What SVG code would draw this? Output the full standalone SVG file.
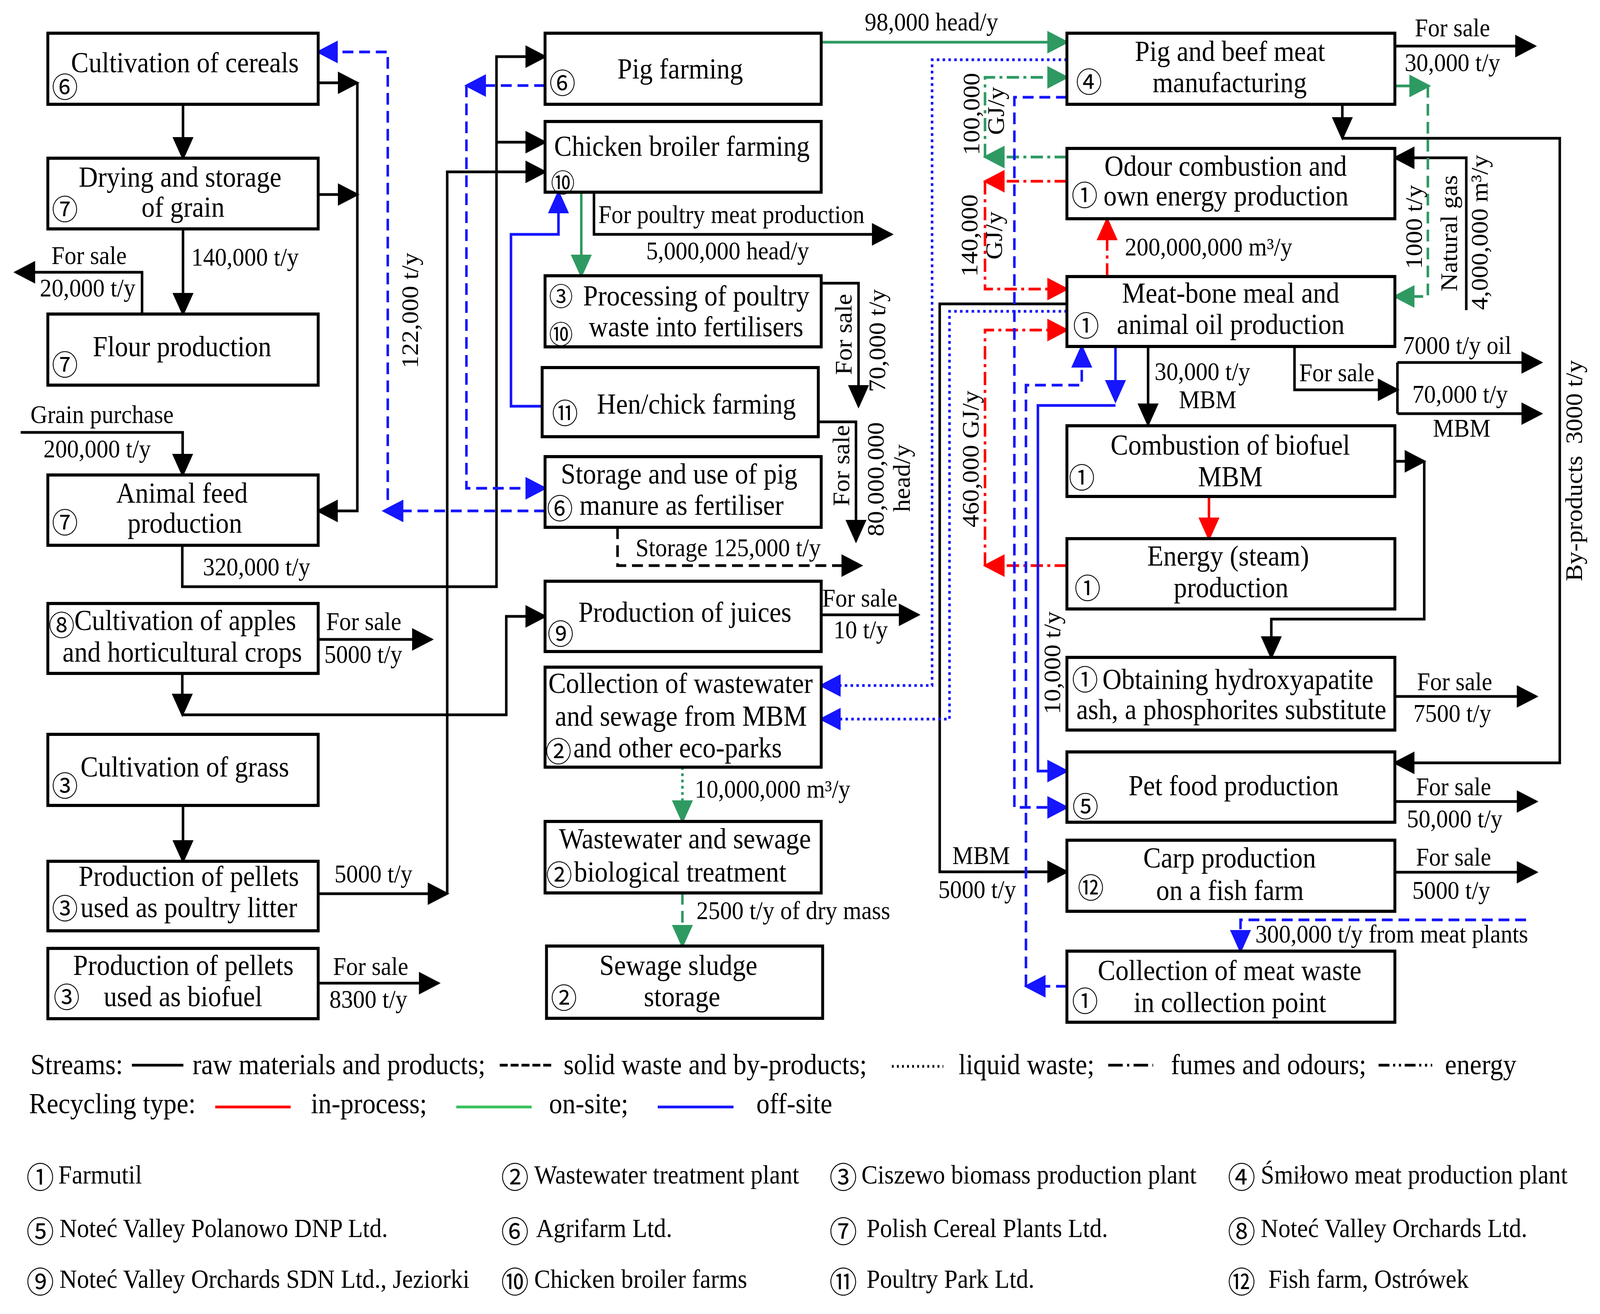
<svg xmlns="http://www.w3.org/2000/svg" width="4415" height="3364" viewBox="0 0 4415 3364" preserveAspectRatio="none">
<style>
:root{width:100vw;height:100vh}
.t{font-family:"Liberation Serif","Times New Roman",serif;font-size:73px;fill:#000}
.s{font-family:"Liberation Serif","Times New Roman",serif;font-size:65px;fill:#000}
.f{font-family:"Liberation Serif","Times New Roman",serif;font-size:67px;fill:#000}
.m{text-anchor:middle}
.c{font-family:"Noto Sans CJK JP","DejaVu Sans",sans-serif;font-size:72px;text-anchor:middle;dominant-baseline:central;fill:#000}
.cs{font-size:66px}
.cf{font-size:76px}
.box{fill:#fff;stroke:#000;stroke-width:8}
.k{fill:none;stroke:#000;stroke-width:7}
.bl{fill:none;stroke:#1515ff;stroke-width:7}
.rd{fill:none;stroke:#ff0000;stroke-width:7}
.gr{fill:none;stroke:#2e9a62;stroke-width:7}
.dash{stroke-dasharray:30 16}
.dot{stroke-dasharray:7 9}
.dd{stroke-dasharray:34 12 8 12}
.ek{marker-end:url(#ak)}
.eb{marker-end:url(#ab)}
.er{marker-end:url(#ar)}
.eg{marker-end:url(#ag)}
</style>
<defs>
<marker id="ak" viewBox="0 0 60 58" refX="54" refY="29" markerWidth="60" markerHeight="58" markerUnits="userSpaceOnUse" orient="auto"><path d="M0,0L60,29L0,58z" fill="#000"/></marker>
<marker id="ab" viewBox="0 0 60 58" refX="54" refY="29" markerWidth="60" markerHeight="58" markerUnits="userSpaceOnUse" orient="auto"><path d="M0,0L60,29L0,58z" fill="#1515ff"/></marker>
<marker id="ar" viewBox="0 0 60 58" refX="54" refY="29" markerWidth="60" markerHeight="58" markerUnits="userSpaceOnUse" orient="auto"><path d="M0,0L60,29L0,58z" fill="#ff0000"/></marker>
<marker id="ag" viewBox="0 0 60 58" refX="54" refY="29" markerWidth="60" markerHeight="58" markerUnits="userSpaceOnUse" orient="auto"><path d="M0,0L60,29L0,58z" fill="#2e9a62"/></marker>
</defs>
<rect width="4415" height="3364" fill="#fff"/>

<g id="connectors">
<path class="k ek" d="M505,267V405"/>
<path class="k ek" d="M505,586V804"/>
<path class="k ek" d="M392,804V697H43"/>
<path class="k ek" d="M878,212H986"/>
<path class="k ek" d="M878,498H986"/>
<path class="k ek" d="M986,212V1308H878"/>
<path class="k ek" d="M57,1107H504V1216"/>
<path class="k ek" d="M503,1396V1502H1370V145H1504"/>
<path class="k ek" d="M1370,364H1504"/>
<path class="k ek" d="M878,2288H1234"/>
<path class="k ek" d="M1234,2288V440H1504"/>
<path class="k ek" d="M503,1724V1830"/>
<path class="k ek" d="M503,1830H1397V1578H1504"/>
<path class="k ek" d="M505,2062V2205"/>
<path class="k ek" d="M878,2517H1210"/>
<path class="k ek" d="M878,1637H1191"/>
<path class="k ek" d="M1639,492V600H2460"/>
<path class="k ek" d="M2266,725H2369V1040"/>
<path class="k ek" d="M2258,1080H2362V1385"/>
<path class="k ek dash" d="M1704,1350V1448H2376"/>
<path class="k ek" d="M2266,1574H2534"/>
<path class="k ek" d="M3849,118H4235"/>
<path class="k ek" d="M3704,267V354"/>
<path class="k ek" d="M3704,354H4304V1953H3849"/>
<path class="k ek" d="M4046,794V404H3849"/>
<path class="k ek" d="M3168,887V1087"/>
<path class="k ek" d="M3572,887V998H3856"/>
<path class="k" d="M3856,928V1059"/>
<path class="k ek" d="M3856,928H4252"/>
<path class="k ek" d="M3856,1059H4252"/>
<path class="k ek" d="M3849,1181H3930"/>
<path class="k ek" d="M3930,1181V1585H3508V1683"/>
<path class="k ek" d="M3849,1783H4239"/>
<path class="k ek" d="M3849,2052H4239"/>
<path class="k ek" d="M3849,2233H4239"/>
<path class="k ek" d="M2944,778H2593V2232H2944"/>
<path class="gr eg" d="M2266,108H2944"/>
<path class="gr eg" d="M1604,492V706"/>
<path class="gr eg dot" d="M1883,1964V2103"/>
<path class="gr eg dash" d="M1883,2286V2422"/>
<path class="gr eg" d="M3849,220H3943"/>
<path class="gr eg dash" d="M3940,220V759H3849"/>
<path class="gr eg dd" d="M2944,402H2718"/>
<path class="gr eg dd" d="M2718,402V198H2944"/>
<path class="rd er dd" d="M2944,464H2718"/>
<path class="rd er dd" d="M2718,464V740H2944"/>
<path class="rd er dd" d="M2944,1448H2718"/>
<path class="rd er dd" d="M2718,1448V845H2944"/>
<path class="rd er dd" d="M3055,708V561"/>
<path class="rd er" d="M3336,1271V1379"/>
<path class="bl eb dash" d="M1504,1308H1059"/>
<path class="bl eb dash" d="M1070,1280V133H878"/>
<path class="bl eb dash" d="M1504,219H1287"/>
<path class="bl eb dash" d="M1287,219V1250H1504"/>
<path class="bl eb" d="M1496,1040H1410V600H1541V492"/>
<path class="bl eb dot" d="M2944,153H2572V1755H2266"/>
<path class="bl eb dot" d="M2944,797H2620V1841H2266"/>
<path class="bl eb dash" d="M2944,249H2799V2067H2944"/>
<path class="bl eb dash" d="M2944,2525H2831"/>
<path class="bl eb dash" d="M2831,2525V986H2985V887"/>
<path class="bl eb" d="M3078,887V1027"/>
<path class="bl eb" d="M3078,1038H2864V1974H2944"/>
<path class="bl eb dash" d="M4211,2355H3423V2435"/>
</g>

<g id="connector-labels">
<text class="s" x="528" y="680">140,000 t/y</text>
<text class="s" x="142" y="676">For sale</text>
<text class="s" x="110" y="759">20,000 t/y</text>
<text class="s m" transform="translate(1153,795) rotate(-90)">122,000 t/y</text>
<text class="s" x="84" y="1083">Grain purchase</text>
<text class="s" x="120" y="1171">200,000 t/y</text>
<text class="s" x="560" y="1473">320,000 t/y</text>
<text class="s" x="900" y="1613">For sale</text>
<text class="s" x="895" y="1697">5000 t/y</text>
<text class="s" x="923" y="2259">5000 t/y</text>
<text class="s" x="919" y="2496">For sale</text>
<text class="s" x="909" y="2580">8300 t/y</text>
<text class="s" x="2386" y="78">98,000 head/y</text>
<text class="s" x="1651" y="571">For poultry meat production</text>
<text class="s" x="1783" y="664">5,000,000 head/y</text>
<text class="s m" transform="translate(2350,856) rotate(-90)">For sale</text>
<text class="s m" transform="translate(2442,872) rotate(-90)">70,000 t/y</text>
<text class="s m" transform="translate(2343,1192) rotate(-90)">For sale</text>
<text class="s m" transform="translate(2438,1227) rotate(-90)">80,000,000</text>
<text class="s m" transform="translate(2510,1224) rotate(-90)">head/y</text>
<text class="s" x="1754" y="1424">Storage 125,000 t/y</text>
<text class="s" x="2269" y="1553">For sale</text>
<text class="s" x="2300" y="1634">10 t/y</text>
<text class="s" x="1917" y="2042">10,000,000 m³/y</text>
<text class="s" x="1922" y="2353">2500 t/y of dry mass</text>
<text class="s m" transform="translate(2702,292) rotate(-90)">100,000</text>
<text class="s m" transform="translate(2770,284) rotate(-90)">GJ/y</text>
<text class="s m" transform="translate(2697,603) rotate(-90)">140,000</text>
<text class="s m" transform="translate(2765,603) rotate(-90)">GJ/y</text>
<text class="s m" transform="translate(2700,1175) rotate(-90)">460,000 GJ/y</text>
<text class="s" x="3104" y="654">200,000,000 m³/y</text>
<text class="s" x="3904" y="93">For sale</text>
<text class="s" x="3876" y="182">30,000 t/y</text>
<text class="s m" transform="translate(3923,581) rotate(-90)">1000 t/y</text>
<text class="s m" transform="translate(4020,597) rotate(-90)">Natural gas</text>
<text class="s m" transform="translate(4105,595) rotate(-90)">4,000,000 m³/y</text>
<text class="s" x="3186" y="973">30,000 t/y</text>
<text class="s" x="3253" y="1045">MBM</text>
<text class="s" x="3585" y="976">For sale</text>
<text class="s" x="3871" y="906">7000 t/y oil</text>
<text class="s" x="3897" y="1031">70,000 t/y</text>
<text class="s" x="3954" y="1118">MBM</text>
<text class="s m" transform="translate(4365,1205) rotate(-90)">By-products<tspan dx="30">3000 t/y</tspan></text>
<text class="s m" transform="translate(2925,1697) rotate(-90)">10,000 t/y</text>
<text class="s" x="3910" y="1767">For sale</text>
<text class="s" x="3900" y="1848">7500 t/y</text>
<text class="s" x="3907" y="2036">For sale</text>
<text class="s" x="3882" y="2118">50,000 t/y</text>
<text class="s" x="3907" y="2216">For sale</text>
<text class="s" x="3897" y="2301">5000 t/y</text>
<text class="s" x="2628" y="2212">MBM</text>
<text class="s" x="2589" y="2299">5000 t/y</text>
<text class="s" x="3464" y="2413">300,000 t/y from meat plants</text>
</g>

<g id="n-cereals"><rect class="box" x="132" y="85" width="746" height="182"/><text class="t" x="196" y="185">Cultivation of cereals</text><text class="c" x="179" y="217">⑥</text></g>
<g id="n-drying"><rect class="box" x="132" y="405" width="746" height="181"/><text class="t m" x="497" y="478">Drying and storage</text><text class="t m" x="505" y="555">of grain</text><text class="c" x="179" y="530">⑦</text></g>
<g id="n-flour"><rect class="box" x="132" y="804" width="746" height="182"/><text class="t" x="256" y="912">Flour production</text><text class="c" x="179" y="928">⑦</text></g>
<g id="n-feed"><rect class="box" x="132" y="1216" width="746" height="180"/><text class="t m" x="502" y="1287">Animal feed</text><text class="t m" x="510" y="1364">production</text><text class="c" x="179" y="1332">⑦</text></g>
<g id="n-apples"><rect class="box" x="132" y="1545" width="746" height="179"/><text class="c" x="170" y="1595">⑧</text><text class="t" x="205" y="1613">Cultivation of apples</text><text class="t m" x="503" y="1694">and horticultural crops</text></g>
<g id="n-grass"><rect class="box" x="132" y="1880" width="746" height="182"/><text class="t" x="222" y="1988">Cultivation of grass</text><text class="c" x="179" y="2006">③</text></g>
<g id="n-pellets-litter"><rect class="box" x="132" y="2205" width="746" height="178"/><text class="t m" x="521" y="2268">Production of pellets</text><text class="c" x="179" y="2320">③</text><text class="t" x="222" y="2348">used as poultry litter</text></g>
<g id="n-pellets-fuel"><rect class="box" x="132" y="2428" width="746" height="180"/><text class="t m" x="506" y="2496">Production of pellets</text><text class="t m" x="505" y="2576">used as biofuel</text><text class="c" x="184" y="2547">③</text></g>

<g id="n-pig"><rect class="box" x="1504" y="85" width="762" height="182"/><text class="t m" x="1877" y="201">Pig farming</text><text class="c" x="1552" y="207">⑥</text></g>
<g id="n-chicken"><rect class="box" x="1504" y="311" width="762" height="181"/><text class="t" x="1529" y="399">Chicken broiler farming</text><text class="c cs" x="1553" y="463">⑩</text></g>
<g id="n-processing"><rect class="box" x="1504" y="706" width="762" height="182"/><text class="c cs" x="1548" y="754">③</text><text class="t" x="1609" y="782">Processing of poultry</text><text class="c cs" x="1548" y="851">⑩</text><text class="t" x="1625" y="861">waste into fertilisers</text></g>
<g id="n-hen"><rect class="box" x="1496" y="941" width="762" height="177"/><text class="c" x="1559" y="1052">⑪</text><text class="t" x="1647" y="1059">Hen/chick farming</text></g>
<g id="n-manure"><rect class="box" x="1504" y="1169" width="762" height="181"/><text class="t m" x="1874" y="1238">Storage and use of pig</text><text class="c" x="1545" y="1296">⑥</text><text class="t" x="1599" y="1318">manure as fertiliser</text></g>
<g id="n-juices"><rect class="box" x="1504" y="1488" width="762" height="180"/><text class="c" x="1547" y="1617">⑨</text><text class="t" x="1596" y="1592">Production of juices</text></g>
<g id="n-ww-collection"><rect class="box" x="1504" y="1708" width="762" height="256"/><text class="t" x="1513" y="1774">Collection of wastewater</text><text class="t m" x="1879" y="1858">and sewage from MBM</text><text class="c" x="1541" y="1918">②</text><text class="t" x="1582" y="1939">and other eco-parks</text></g>
<g id="n-ww-treatment"><rect class="box" x="1504" y="2103" width="762" height="183"/><text class="t m" x="1890" y="2172">Wastewater and sewage</text><text class="c" x="1543" y="2234">②</text><text class="t" x="1584" y="2257">biological treatment</text></g>
<g id="n-sludge"><rect class="box" x="1508" y="2422" width="762" height="185"/><text class="t m" x="1872" y="2496">Sewage sludge</text><text class="t m" x="1882" y="2576">storage</text><text class="c" x="1556" y="2549">②</text></g>

<g id="n-meat"><rect class="box" x="2944" y="85" width="905" height="182"/><text class="t m" x="3394" y="156">Pig and beef meat</text><text class="t m" x="3393" y="236">manufacturing</text><text class="c" x="3005" y="204">④</text></g>
<g id="n-odour"><rect class="box" x="2944" y="380" width="905" height="180"/><text class="t m" x="3382" y="450">Odour combustion and</text><text class="t m" x="3383" y="526">own energy production</text><text class="c" x="2993" y="494">①</text></g>
<g id="n-mbm"><rect class="box" x="2944" y="708" width="905" height="179"/><text class="t m" x="3396" y="775">Meat-bone meal and</text><text class="t m" x="3396" y="855">animal oil production</text><text class="c" x="2997" y="828">①</text></g>
<g id="n-combustion"><rect class="box" x="2944" y="1090" width="905" height="181"/><text class="t m" x="3395" y="1164">Combustion of biofuel</text><text class="t m" x="3395" y="1245">MBM</text><text class="c" x="2985" y="1217">①</text></g>
<g id="n-energy"><rect class="box" x="2944" y="1379" width="905" height="180"/><text class="t m" x="3389" y="1448">Energy (steam)</text><text class="t m" x="3397" y="1529">production</text><text class="c" x="3001" y="1500">①</text></g>
<g id="n-hydroxyapatite"><rect class="box" x="2944" y="1683" width="905" height="186"/><text class="c" x="2994" y="1734">①</text><text class="t" x="3042" y="1764">Obtaining hydroxyapatite</text><text class="t" x="2970" y="1841">ash, a phosphorites substitute</text></g>
<g id="n-petfood"><rect class="box" x="2944" y="1925" width="905" height="180"/><text class="t m" x="3404" y="2036">Pet food production</text><text class="c" x="2995" y="2059">⑤</text></g>
<g id="n-carp"><rect class="box" x="2944" y="2151" width="905" height="182"/><text class="t m" x="3393" y="2221">Carp production</text><text class="t m" x="3394" y="2304">on a fish farm</text><text class="c" x="3010" y="2267">⑫</text></g>
<g id="n-meatwaste"><rect class="box" x="2944" y="2435" width="905" height="182"/><text class="t m" x="3393" y="2509">Collection of meat waste</text><text class="t m" x="3394" y="2591">in collection point</text><text class="c" x="2994" y="2557">①</text></g>

<g id="legend">
<text class="t" x="84" y="2750">Streams:</text>
<path class="k" d="M364,2727H506"/>
<text class="t" x="531" y="2750">raw materials and products;</text>
<path class="k" style="stroke-dasharray:22 8" d="M1379,2727H1526"/>
<text class="t" x="1555" y="2750">solid waste and by-products;</text>
<path class="k" style="stroke-dasharray:5 9" d="M2461,2730H2603"/>
<text class="t" x="2645" y="2750">liquid waste;</text>
<path class="k" style="stroke-dasharray:40 12 6 12" d="M3058,2727H3182"/>
<text class="t" x="3231" y="2750">fumes and odours;</text>
<path class="k" style="stroke-dasharray:30 10 6 10 6 10" d="M3804,2727H3952"/>
<text class="t" x="3987" y="2750">energy</text>
<text class="t" x="80" y="2850">Recycling type:</text>
<path class="rd" d="M594,2834H802"/>
<text class="t" x="858" y="2850">in-process;</text>
<path fill="none" stroke="#35c05a" stroke-width="7" d="M1259,2834H1467"/>
<text class="t" x="1515" y="2850">on-site;</text>
<path class="bl" d="M1815,2834H2024"/>
<text class="t" x="2087" y="2850">off-site</text>

<text class="c cf" x="111" y="3009">①</text><text class="f" x="161" y="3030">Farmutil</text>
<text class="c cf" x="1421" y="3009">②</text><text class="f" x="1474" y="3030">Wastewater treatment plant</text>
<text class="c cf" x="2327" y="3009">③</text><text class="f" x="2377" y="3030">Ciszewo biomass production plant</text>
<text class="c cf" x="3426" y="3009">④</text><text class="f" x="3479" y="3030">Śmiłowo meat production plant</text>
<text class="c cf" x="111" y="3148">⑤</text><text class="f" x="164" y="3167">Noteć Valley Polanowo DNP Ltd.</text>
<text class="c cf" x="1421" y="3148">⑥</text><text class="f" x="1479" y="3167">Agrifarm Ltd.</text>
<text class="c cf" x="2327" y="3148">⑦</text><text class="f" x="2391" y="3167">Polish Cereal Plants Ltd.</text>
<text class="c cf" x="3426" y="3148">⑧</text><text class="f" x="3479" y="3167">Noteć Valley Orchards Ltd.</text>
<text class="c cf" x="111" y="3277">⑨</text><text class="f" x="164" y="3297">Noteć Valley Orchards SDN Ltd., Jeziorki</text>
<text class="c cf" x="1421" y="3277">⑩</text><text class="f" x="1474" y="3297">Chicken broiler farms</text>
<text class="c cf" x="2327" y="3277">⑪</text><text class="f" x="2391" y="3297">Poultry Park Ltd.</text>
<text class="c cf" x="3426" y="3277">⑫</text><text class="f" x="3500" y="3297">Fish farm, Ostrówek</text>
</g>
</svg>
